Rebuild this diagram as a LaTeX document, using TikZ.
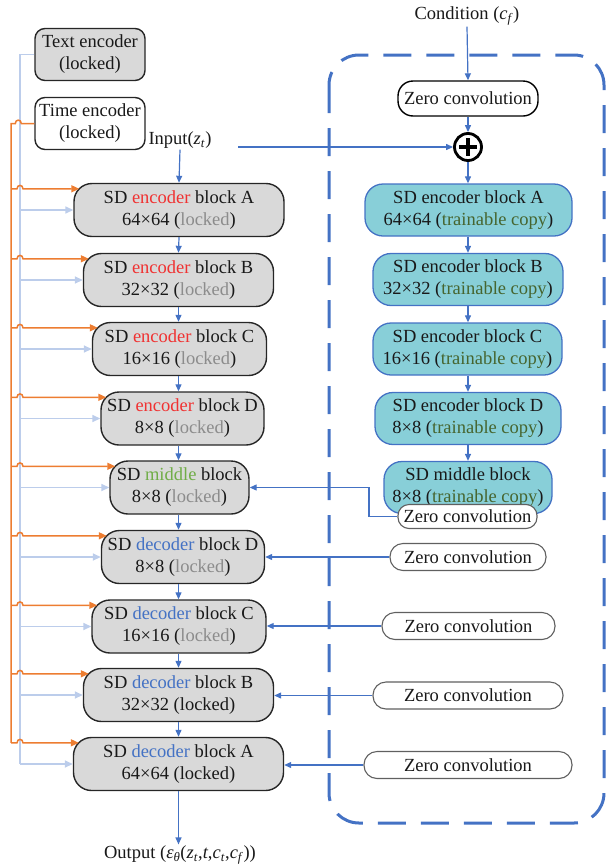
\documentclass[tikz,border=0pt]{standalone}
\usepackage{fontspec}
\setmainfont{Liberation Serif}
\usetikzlibrary{arrows.meta,calc}

\definecolor{lineblue}{HTML}{4472C4}
\definecolor{lineorange}{HTML}{ED7D31}
\definecolor{linelight}{HTML}{BCCDEB}
\definecolor{boxgray}{HTML}{D9D9D9}
\definecolor{boxcyan}{HTML}{88CFD8}
\definecolor{encred}{HTML}{F03232}
\definecolor{midgreen}{HTML}{70AD47}
\definecolor{decblue}{HTML}{4472C4}
\definecolor{lockgray}{HTML}{8C8C8C}
\definecolor{traingreen}{HTML}{46652F}
\definecolor{zcgray}{HTML}{606060}

\begin{document}
\begin{tikzpicture}[x=1pt,y=-1pt,
  every node/.style={font=\fontsize{18.5}{22}\selectfont, text=black!90, inner sep=1pt},
  block/.style={draw=black!85, line width=1.4pt, fill=boxgray, rounded corners=18pt,
    minimum height=53pt, align=center},
  smallbox/.style={draw=black!85, line width=1.4pt, rounded corners=10pt,
    minimum width=110pt, minimum height=52pt, align=center},
  trainbox/.style={draw=lineblue, line width=1.3pt, fill=boxcyan, rounded corners=18pt,
    minimum height=52pt, align=center},
  zeroconv/.style={draw=zcgray, line width=1.1pt, fill=white, rounded corners=13pt,
    minimum height=27pt},
  flow/.style={draw=lineblue, line width=1.2pt, -{Triangle[length=7pt,width=6pt]}},
  orangeln/.style={draw=lineorange, line width=1.5pt},
  orangearr/.style={orangeln, -{Triangle[length=8pt,width=7pt]}},
  lightln/.style={draw=linelight, line width=1.6pt},
  lightarr/.style={lightln, -{Triangle[length=8pt,width=7pt]}},
  dashframe/.style={draw=lineblue, line width=3pt, dash pattern=on 28pt off 15pt,
    rounded corners=30pt}
]
\useasboundingbox (0,0) rectangle (606,868);

% trainable copy frame
\draw[dashframe] (329,55) rectangle (604,823);

% encoders feeding the locked network
\node[smallbox, fill=boxgray] (text) at (90,54.5) {Text encoder\\(locked)};
\node[smallbox, fill=white] (time) at (90,123.5) {Time encoder\\(locked)};

% locked Stable Diffusion column
\node (input) at (180,140) {Input(\textit{z}\textsubscript{\textit{t}})};
\node[block, minimum width=210pt] (encA) at (179,210) {SD \textcolor{encred}{encoder} block A\\64×64 (\textcolor{lockgray}{locked})};
\node[block, minimum width=190pt] (encB) at (178.5,280) {SD \textcolor{encred}{encoder} block B\\32×32 (\textcolor{lockgray}{locked})};
\node[block, minimum width=174pt] (encC) at (179.5,349) {SD \textcolor{encred}{encoder} block C\\16×16 (\textcolor{lockgray}{locked})};
\node[block, minimum width=163pt] (encD) at (182.5,418.5) {SD \textcolor{encred}{encoder} block D\\8×8 (\textcolor{lockgray}{locked})};
\node[block, minimum width=139pt] (mid) at (179.5,487.5) {SD \textcolor{midgreen}{middle} block\\8×8 (\textcolor{lockgray}{locked})};
\node[block, minimum width=163pt] (decD) at (183,557) {SD \textcolor{decblue}{decoder} block D\\8×8 (\textcolor{lockgray}{locked})};
\node[block, minimum width=174pt] (decC) at (179,626.5) {SD \textcolor{decblue}{decoder} block C\\16×16 (\textcolor{lockgray}{locked})};
\node[block, minimum width=190pt] (decB) at (178.5,695) {SD \textcolor{decblue}{decoder} block B\\32×32 (locked)};
\node[block, minimum width=210pt] (decA) at (178.5,764) {SD \textcolor{decblue}{decoder} block A\\64×64 (locked)};
\node (out) at (180,855) {Output (\textit{ε}\textsubscript{\textit{θ}}(\textit{z}\textsubscript{\textit{t}},\textit{t},\textit{c}\textsubscript{\textit{t}},\textit{c}\textsubscript{\textit{f}}))};

% trainable copy column
\node (cond) at (467,16) {Condition (\textit{c}\textsubscript{\textit{f}})};
\node[zeroconv, draw=black, line width=1.4pt, minimum width=140pt, minimum height=35pt, rounded corners=15pt] (zc0) at (468,98.5) {Zero convolution};
\node[circle, draw=black, line width=2.8pt, minimum size=27pt, inner sep=0pt] (plus) at (468,147) {};
\draw[line width=3.2pt] ($(plus.center)+(-9,0)$) -- ($(plus.center)+(9,0)$);
\draw[line width=3.2pt] ($(plus.center)+(0,-9)$) -- ($(plus.center)+(0,9)$);
\node[trainbox, minimum width=207pt] (trA) at (468.5,210) {SD encoder block A\\64×64 (\textcolor{traingreen}{trainable copy})};
\node[trainbox, minimum width=190pt] (trB) at (468,279.5) {SD encoder block B\\32×32 (\textcolor{traingreen}{trainable copy})};
\node[trainbox, minimum width=189pt] (trC) at (467.5,349) {SD encoder block C\\16×16 (\textcolor{traingreen}{trainable copy})};
\node[trainbox, minimum width=186pt] (trD) at (468,418.5) {SD encoder block D\\8×8 (\textcolor{traingreen}{trainable copy})};
\node[trainbox, minimum width=168pt] (trM) at (468,487.5) {SD middle block\\8×8 (\textcolor{traingreen}{trainable copy})};

% zero convolutions returning into the decoder
\node[zeroconv, minimum width=139pt, minimum height=24pt, rounded corners=11pt] (zc1) at (467.5,516.5) {Zero convolution};
\node[zeroconv, minimum width=156pt] (zc2) at (468,557) {Zero convolution};
\node[zeroconv, minimum width=173pt] (zc3) at (468.5,626) {Zero convolution};
\node[zeroconv, minimum width=190pt] (zc4) at (468,695.5) {Zero convolution};
\node[zeroconv, minimum width=208pt] (zc5) at (468,765) {Zero convolution};

% main data flow
\draw[flow] (input.south) -- (encA.north);
\draw[flow] (encA.south) -- (encB.south |- encB.north);
\draw[flow] (encB.south) -- (encB.south |- encC.north);
\draw[flow] (encB.south |- encC.south) -- (encB.south |- encD.north);
\draw[flow] (encB.south |- encD.south) -- (encB.south |- mid.north);
\draw[flow] (encB.south |- mid.south) -- (encB.south |- decD.north);
\draw[flow] (encB.south |- decD.south) -- (encB.south |- decC.north);
\draw[flow] (encB.south |- decC.south) -- (encB.south |- decB.north);
\draw[flow] (encB.south |- decB.south) -- (encB.south |- decA.north);
\draw[flow] (encB.south |- decA.south) -- (out.north -| encB.south);

\coordinate (instart) at (238,147);
\draw[flow] (instart) -- (plus.west);
\draw[flow] (cond.south) -- (zc0.north);
\draw[flow] (zc0.south) -- (plus.north);
\draw[flow] (plus.south) -- (plus.south |- trA.north);
\draw[flow] (plus.south |- trA.south) -- (plus.south |- trB.north);
\draw[flow] (plus.south |- trB.south) -- (plus.south |- trC.north);
\draw[flow] (plus.south |- trC.south) -- (plus.south |- trD.north);
\draw[flow] (plus.south |- trD.south) -- (plus.south |- trM.north);

\coordinate (bend) at (369,0);
\draw[flow] (zc1.west) -- (zc1.west -| bend) -- (mid.east -| bend) -- (mid.east);
\draw[flow] (zc2.west) -- (zc2.west -| decD.east);
\draw[flow] (zc3.west) -- (zc3.west -| decC.east);
\draw[flow] (zc4.west) -- (zc4.west -| decB.east);
\draw[flow] (zc5.west) -- (zc5.west -| decA.east);

% conditioning buses on the left
\coordinate (ov) at (11,0);
\coordinate (lv) at (20,0);
\draw[lightln] (text.west) -- (text.west -| lv) -- (decA.west -| lv);
\foreach \b in {encA,encB,encC,encD,mid,decD,decC,decB,decA}{
  \coordinate (\b-o) at ($(\b.north west)+(6,6)$);
  \draw[lightarr] (\b.west -| lv) -- (\b.west);
  \draw[orangearr] (\b-o -| ov) -- ++(6,0) .. controls +(0,-4.5) and +(0,-4.5) .. ++(6,0) -- (\b-o);
}
\draw[orangeln] (time.west) -- ++(-13,0) .. controls +(0,-4.5) and +(0,-4.5) .. ++(-6,0)
  -- (time.west -| ov) -- (decA-o -| ov);
\end{tikzpicture}
\end{document}
